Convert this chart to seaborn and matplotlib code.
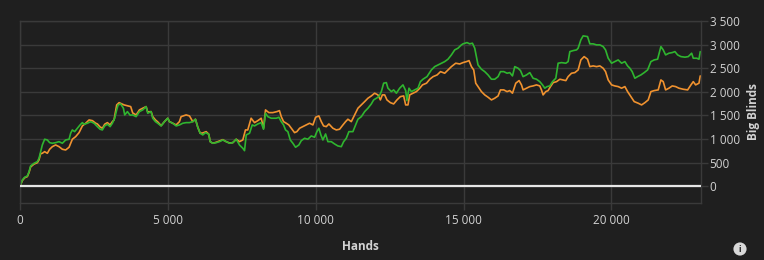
import matplotlib
matplotlib.use("Agg")
import matplotlib.pyplot as plt
import matplotlib.ticker as mticker
import seaborn as sns
import pandas as pd

# ---- data (hands, big blinds) ----
green_hands = [0, 78, 156, 247, 305, 359, 474, 586, 643, 697, 755, 833, 924, 1002, 1093, 1205, 1320, 1432,
               1544, 1659, 1713, 1770, 1848, 1940, 2031, 2109, 2166, 2278, 2390, 2505, 2617, 2708, 2786, 2864,
               2955, 3047, 3124, 3202, 3270, 3317, 3405, 3497, 3541, 3632, 3724, 3811, 3927, 4038, 4150, 4265,
               4319, 4434, 4488, 4580, 4658, 4773, 4885, 4996, 5054, 5165, 5281, 5392, 5504, 5619, 5731, 5843,
               5934, 6012, 6093, 6181, 6272, 6384, 6432, 6520, 6635, 6746, 6858, 6973, 7085, 7197, 7312, 7423,
               7535, 7593, 7650, 7762, 7853, 7931, 8043, 8158, 8236, 8303, 8381, 8496, 8666, 8754, 8835, 8913,
               8981, 9058, 9140, 9228, 9319, 9431, 9512, 9624, 9735, 9850, 9962, 10040, 10107, 10175, 10243,
               10334, 10412, 10527, 10639, 10751, 10866, 10944, 11035, 11123, 11258, 11428, 11543, 11655, 11767,
               11881, 11959, 12051, 12139, 12220, 12298, 12389, 12443, 12558, 12636, 12728, 12839, 12951, 13042,
               13086, 13154, 13235, 13347, 13459, 13540, 13628, 13763, 13912, 14024, 14136, 14251, 14362, 14474,
               14589, 14701, 14812, 14927, 14981, 15117, 15208, 15300, 15378, 15435, 15489, 15604, 15716, 15828,
               15943, 16055, 16167, 16248, 16360, 16471, 16563, 16654, 16732, 16844, 16925, 17013, 17128, 17240,
               17351, 17466, 17578, 17670, 17747, 17825, 17917, 18008, 18120, 18198, 18313, 18459, 18536, 18594,
               18706, 18821, 18875, 18967, 19044, 19193, 19271, 19383, 19498, 19610, 19721, 19802, 19891, 20006,
               20117, 20229, 20344, 20456, 20547, 20625, 20703, 20794, 20885, 20997, 21109, 21224, 21336, 21447,
               21562, 21674, 21752, 21833, 21945, 22057, 22148, 22239, 22351, 22487, 22599, 22714, 22768, 22883,
               22961, 23005]
green_bb = [0, 133, 191, 218, 309, 430, 487, 522, 593, 733, 875, 996, 981, 924, 911, 924, 945, 911,
            981, 996, 1123, 1193, 1157, 1229, 1299, 1348, 1314, 1335, 1369, 1335, 1263, 1208, 1193, 1278,
            1314, 1263, 1335, 1441, 1617, 1723, 1744, 1653, 1511, 1581, 1505, 1511, 1475, 1581, 1617, 1687,
            1547, 1581, 1441, 1369, 1335, 1278, 1369, 1441, 1369, 1335, 1278, 1299, 1335, 1348, 1348, 1369,
            1420, 1250, 1123, 1087, 1136, 1102, 945, 911, 924, 945, 981, 945, 911, 924, 996, 875,
            805, 754, 1087, 1123, 1299, 1278, 1320, 1348, 1208, 1547, 1475, 1441, 1441, 1462, 1369, 1299,
            1193, 1157, 981, 911, 826, 875, 966, 1017, 996, 1066, 1038, 1157, 1229, 1087, 981,
            1108, 945, 945, 896, 854, 839, 945, 1017, 1157, 1157, 1420, 1475, 1581, 1653,
            1744, 1829, 1865, 1899, 2005, 2183, 2195, 2077, 2005, 2041, 1971, 2077, 2147, 2026,
            1814, 2077, 2005, 2041, 2077, 2216, 2267, 2322, 2464, 2534, 2570, 2606, 2640, 2691,
            2782, 2888, 2924, 2994, 3016, 3043, 3016, 3030, 2924, 2746, 2570, 2479, 2428, 2358,
            2267, 2267, 2322, 2428, 2428, 2394, 2407, 2337, 2534, 2500, 2450, 2322, 2358, 2407,
            2288, 2267, 2216, 2147, 2077, 2111, 2125, 2216, 2288, 2606, 2619, 2606, 2640, 2852,
            2873, 2888, 2924, 3100, 3185, 3170, 3016, 3016, 2994, 2994, 2958, 2888, 2712, 2606,
            2640, 2676, 2606, 2640, 2549, 2500, 2428, 2288, 2322, 2358, 2407, 2464, 2640, 2676,
            2691, 2958, 2888, 2782, 2818, 2831, 2852, 2782, 2746, 2734, 2746, 2818, 2712, 2712,
            2691, 2852]

orange_hands = [0, 78, 156, 247, 305, 359, 474, 586, 643, 697, 755, 833, 924, 1002, 1093, 1205, 1320, 1432,
                1544, 1659, 1770, 1882, 1997, 2109, 2221, 2336, 2448, 2560, 2617, 2708, 2786, 2864, 2955,
                3047, 3124, 3180, 3270, 3351, 3520, 3744, 3811, 3927, 4038, 4150, 4265, 4319, 4434, 4488,
                4580, 4658, 4773, 4885, 4996, 5054, 5165, 5281, 5392, 5448, 5619, 5731, 5843, 5934, 6012,
                6093, 6181, 6295, 6384, 6432, 6520, 6635, 6746, 6858, 6973, 7085, 7197, 7312, 7423, 7535,
                7624, 7702, 7816, 7931, 8043, 8158, 8236, 8303, 8415, 8550, 8686, 8774, 8835, 8913, 9004,
                9092, 9173, 9285, 9363, 9455, 9566, 9681, 9793, 9905, 9996, 10107, 10189, 10266, 10358,
                10446, 10581, 10697, 10808, 10920, 11011, 11089, 11204, 11316, 11428, 11543, 11655, 11767,
                11881, 11993, 12105, 12187, 12254, 12332, 12410, 12525, 12636, 12748, 12863, 12975, 13042,
                13120, 13178, 13290, 13405, 13520, 13611, 13747, 13858, 13970, 14106, 14221, 14362, 14474,
                14589, 14735, 14870, 14981, 15097, 15185, 15266, 15344, 15412, 15489, 15604, 15716, 15828,
                15943, 16055, 16167, 16248, 16360, 16471, 16563, 16654, 16766, 16878, 16959, 17013, 17128,
                17240, 17351, 17466, 17578, 17635, 17690, 17781, 17859, 17940, 18030, 18145, 18257, 18369,
                18459, 18536, 18651, 18763, 18875, 18967, 19078, 19193, 19271, 19383, 19498, 19610, 19721,
                19802, 19891, 20006, 20117, 20229, 20344, 20456, 20547, 20659, 20771, 20906, 21021, 21133,
                21245, 21336, 21447, 21583, 21674, 21752, 21833, 21945, 22057, 22172, 22284, 22429, 22578,
                22690, 22768, 22849, 22961, 23005]
orange_bb = [0, 120, 180, 205, 290, 410, 470, 500, 560, 690, 699, 733, 699, 784, 839, 875, 839, 784,
             769, 826, 996, 1051, 1136, 1278, 1335, 1405, 1390, 1335, 1320, 1257, 1229, 1314, 1348,
             1299, 1369, 1405, 1723, 1771, 1723, 1687, 1553, 1511, 1617, 1653, 1687, 1574, 1581, 1475,
             1405, 1363, 1284, 1369, 1441, 1369, 1335, 1299, 1369, 1475, 1511, 1490, 1369, 1420, 1250,
             1123, 1129, 1157, 1102, 945, 911, 932, 960, 987, 945, 917, 924, 996, 945, 981,
             1193, 1193, 1441, 1348, 1390, 1441, 1229, 1617, 1560, 1560, 1581, 1602, 1475, 1369, 1335,
             1299, 1229, 1136, 1157, 1229, 1263, 1299, 1335, 1299, 1462, 1490, 1369, 1278, 1263,
             1320, 1229, 1193, 1208, 1299, 1369, 1420, 1369, 1511, 1653, 1723, 1793, 1865,
             1913, 1971, 1935, 1829, 1935, 1935, 1829, 1771, 1744, 1829, 1899, 1913, 1723,
             1723, 1935, 1971, 2005, 2077, 2147, 2183, 2267, 2322, 2358, 2428, 2394, 2464,
             2534, 2606, 2590, 2619, 2640, 2661, 2534, 2464, 2183, 2111, 2005, 1935, 1886,
             1829, 1865, 1913, 2041, 2041, 2005, 2026, 1971, 2183, 2238, 2147, 2041, 2077,
             2111, 2125, 2147, 2125, 2041, 1935, 2005, 2026, 2111, 2195, 2216, 2267, 2252,
             2238, 2322, 2394, 2407, 2464, 2676, 2746, 2691, 2534, 2549, 2534, 2549, 2500,
             2428, 2252, 2147, 2125, 2111, 2077, 2111, 2005, 1899, 1793, 1759, 1723, 1771,
             1829, 2005, 2026, 2041, 2252, 2216, 2041, 2077, 2125, 2111, 2077, 2055, 2041,
             2147, 2216, 2147, 2183, 2337]

series_names = ["All-in adjusted", "Net won"]
x_ticks = [0, 5000, 10000, 15000, 20000]
y_ticks = [0, 500, 1000, 1500, 2000, 2500, 3000, 3500]
x_label = "Hands"
y_label = "Big Blinds"

BG = "#1f1f1f"
GRID = "#3a3a3a"
TXT = "#d2d2d2"
GREEN = "#2fb52f"
ORANGE = "#f0922f"

df = pd.concat([
    pd.DataFrame({"hands": orange_hands, "bb": orange_bb, "series": series_names[1]}),
    pd.DataFrame({"hands": green_hands, "bb": green_bb, "series": series_names[0]}),
], ignore_index=True)

sns.set_theme(style="dark")
plt.rcParams["font.family"] = ["Open Sans", "DejaVu Sans"]

fig = plt.figure(figsize=(7.64, 2.60), dpi=100, facecolor=BG)
ax = fig.add_axes([20 / 764, 1 - 203 / 260, (701.3 - 20) / 764, (203 - 21) / 260])
ax.set_facecolor(BG)

sns.lineplot(data=df, x="hands", y="bb", hue="series",
             hue_order=[series_names[1], series_names[0]],
             palette={series_names[0]: GREEN, series_names[1]: ORANGE},
             estimator=None, sort=False, linewidth=1.2, legend=False, ax=ax)

ax.axhline(0, color="#e6e6e6", linewidth=1.6, zorder=5)

ax.set_xlim(0, 23040)
ax.set_ylim(-354, 3500)
ax.set_xticks(x_ticks)
ax.set_yticks(y_ticks)
fmt = mticker.FuncFormatter(lambda v, p: f"{int(round(v)):,}".replace(",", " "))
ax.xaxis.set_major_formatter(fmt)
ax.yaxis.set_major_formatter(fmt)
ax.yaxis.tick_right()
ax.yaxis.set_label_position("right")

ax.grid(True, color=GRID, linewidth=1.0)
for s in ax.spines.values():
    s.set_visible(True)
    s.set_color(GRID)
    s.set_linewidth(1.0)

ax.tick_params(axis="x", colors=GRID, labelcolor=TXT, length=5, width=1, pad=3, labelsize=8.5, bottom=True)
ax.tick_params(axis="y", colors=GRID, labelcolor=TXT, length=5, width=1, pad=1, labelsize=8.5,
               right=True, left=False)

ax.set_xlabel(x_label, color=TXT, fontsize=8.5, fontweight="bold", labelpad=9)
ax.set_ylabel(y_label, color=TXT, fontsize=8.5, fontweight="bold", labelpad=5)

fig.text(740 / 764, 1 - 249 / 260, "i", ha="center", va="center", color=BG, fontsize=6,
         fontweight="bold",
         bbox=dict(boxstyle="circle,pad=0.25", fc="#d8d8d8", ec="none"))

fig.savefig("out.png", dpi=100, facecolor=BG)
